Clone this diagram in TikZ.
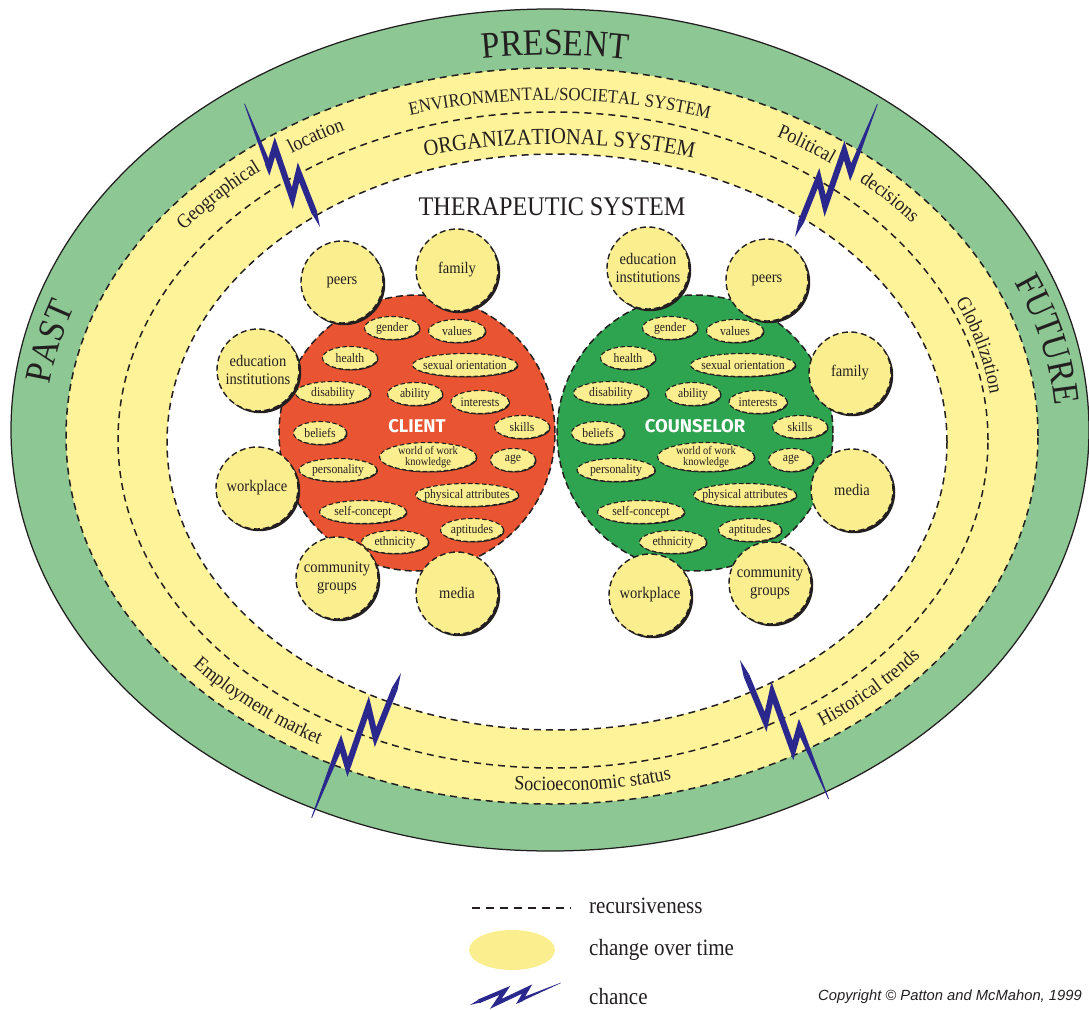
\documentclass[tikz,border=0pt]{standalone}
\usepackage{fontspec}
\setmainfont{Liberation Serif}[FakeStretch=0.9]
\newfontfamily\tagfont{Fira Sans}
\newfontfamily\copyfont{Liberation Sans}
\usetikzlibrary{shapes.geometric,shadows,decorations.text}

\definecolor{bandgreen}{RGB}{140,199,148}
\definecolor{bandyellow}{RGB}{255,243,153}
\definecolor{blobyellow}{RGB}{251,238,142}
\definecolor{clientred}{RGB}{233,85,50}
\definecolor{counselgreen}{RGB}{46,164,80}
\definecolor{chanceblue}{RGB}{42,40,140}
\definecolor{ink}{RGB}{35,31,32}

\newcommand\timefont{\fontsize{21.2}{24}\selectfont}
\newcommand\envfont{\fontsize{10.6}{12}\selectfont}
\newcommand\orgfont{\fontsize{13}{15}\selectfont}
\newcommand\therfont{\fontsize{15.3}{17}\selectfont}
\newcommand\factorfont{\fontsize{11.5}{13}\selectfont}
\newcommand\ctxfont{\fontsize{9.2}{10.4}\selectfont}
\newcommand\legendfont{\fontsize{13.3}{15}\selectfont}

\tikzset{
  recursive/.style={draw=ink, line width=0.03cm, dash pattern=on 0.14cm off 0.1cm},
  person/.style={circle, draw=ink, line width=0.03cm, dash pattern=on 0.14cm off 0.08cm, minimum size=5.52cm, inner sep=0pt},
  personlabel/.style={text=white, font=\tagfont\bfseries\fontsize{10.5}{12}\selectfont},
  ctxcircle/.style={circle, fill=blobyellow, draw=ink, line width=0.028cm, dash pattern=on 0.12cm off 0.07cm,
    minimum size=1.64cm, inner sep=0pt, align=center, text=ink, font=\ctxfont,
    drop shadow={shadow xshift=0.045cm, shadow yshift=-0.045cm, fill=ink, opacity=1}},
  trait/.style={ellipse, fill=blobyellow, draw=ink, line width=0.022cm, dash pattern=on 0.09cm off 0.05cm,
    inner xsep=-1cm, inner ysep=-0.5cm, align=center, text=ink,
    drop shadow={shadow xshift=0.02cm, shadow yshift=-0.02cm, fill=ink, opacity=1}},
  arclabel/.style={decorate, decoration={text along path, text align=center, text color=ink, text={#1}}},
  boltstroke/.style={line width=0.12cm},
  bolt/.pic={
    \fill[chanceblue] (0,0) -- (16.5,6) -- (17.5,0) -- cycle;
    \draw[chanceblue, boltstroke, line join=miter, line cap=butt] (17,3) -- (68,12) -- (46,-10) -- (108,4) -- (92,-14) -- (96,-13.3);
    \fill[chanceblue] (95.5,-10.3) -- (170,0.4) -- (170,-0.4) -- (96.5,-16.3) -- cycle;
  }
}

\begin{document}
\begin{tikzpicture}[x=0.02cm, y=0.02cm]
\useasboundingbox (0,0) rectangle (1089,-1010);

% bands
\filldraw[fill=bandgreen, draw=ink, line width=0.025cm] (550,-430) ellipse [x radius=539, y radius=421];
\fill[bandyellow] (552,-436) ellipse [x radius=486, y radius=368];
\fill[white] (557,-442) ellipse [x radius=390, y radius=288];
\draw[recursive] (552,-436) ellipse [x radius=486, y radius=368];
\draw[recursive] (553,-440) ellipse [x radius=435, y radius=328];
\draw[recursive] (557,-442) ellipse [x radius=390, y radius=288];

% time
\path[arclabel={|\timefont|PRESENT}] (551,-433) ++(106.5:505 and 378) arc [start angle=106.5, end angle=72.5, x radius=505, y radius=378];
\path[arclabel={|\timefont|PAST}] (551,-433) ++(185:505 and 378) arc [start angle=185, end angle=149, x radius=505, y radius=378];
\path[arclabel={|\timefont|FUTURE}] (551,-433) ++(31.5:505 and 378) arc [start angle=31.5, end angle=-4.5, x radius=505, y radius=378];

% systems
\path[arclabel={|\envfont|ENVIRONMENTAL/SOCIETAL SYSTEM}] (552,-438) ++(124:480 and 338) arc [start angle=124, end angle=54, x radius=480, y radius=338];
\path[arclabel={|\orgfont|ORGANIZATIONAL SYSTEM}] (555,-440) ++(124.4:450 and 296) arc [start angle=124.4, end angle=54.4, x radius=450, y radius=296];
\node[font=\therfont, text=ink] (therapeutic) at (552,-207) {THERAPEUTIC SYSTEM};

% societal influences
\path[arclabel={|\factorfont|Geographical}] (552,-438) ++(157:460 and 345) arc [start angle=157, end angle=117, x radius=460, y radius=345];
\path[arclabel={|\factorfont|location}] (552,-438) ++(136:460 and 345) arc [start angle=136, end angle=106, x radius=460, y radius=345];
\path[arclabel={|\factorfont|Political}] (552,-438) ++(71.3:460 and 345) arc [start angle=71.3, end angle=41.3, x radius=460, y radius=345];
\path[arclabel={|\factorfont|decisions}] (552,-438) ++(57.8:460 and 345) arc [start angle=57.8, end angle=27.8, x radius=460, y radius=345];
\path[arclabel={|\factorfont|Globalization}] (552,-438) ++(44.7:442 and 334) arc [start angle=44.7, end angle=-15.3, x radius=442, y radius=334];
\path[arclabel={|\factorfont|Employment market}] (552,-438) ++(198.5:470 and 353) arc [start angle=198.5, end angle=258.5, x radius=470, y radius=353];
\path[arclabel={|\factorfont|Historical trends}] (552,-438) ++(285.2:470 and 353) arc [start angle=285.2, end angle=345.2, x radius=470, y radius=353];
\path[arclabel={|\factorfont|Socioeconomic status}] (552,-438) ++(245.3:470 and 353) arc [start angle=245.3, end angle=305.3, x radius=470, y radius=353];

% client and counselor
\node[person, fill=clientred] (client) at (417,-433) {};
\node[person, fill=counselgreen] (counselor) at (695,-433) {};
\node[personlabel] (client-label) at (417,-426) {CLIENT};
\node[personlabel] (counselor-label) at (695,-426) {COUNSELOR};

\foreach \who/\cx in {cl/417, co/695} {
  \foreach \nm/\dx/\dy/\w/\h/\f/\txt in {
      gender/-25/105/1.1/0.46/7.4/gender,
      values/40/102/1.14/0.46/7.4/values,
      health/-67/75/1.1/0.46/7.4/health,
      sexual/48/68/2.1/0.46/7.4/sexual orientation,
      disability/-84/40/1.5/0.46/7.4/disability,
      ability/-2/39/1.1/0.46/7.4/ability,
      interests/63/31/1.16/0.46/7.4/interests,
      skills/105/6/1.1/0.46/7.4/skills,
      beliefs/-97/0/1.06/0.46/7.4/beliefs,
      work/11/-24/1.94/0.58/6.6/{world of work\\knowledge},
      age/96/-27/0.9/0.46/7.4/age,
      personality/-79/-37/1.56/0.46/7.4/personality,
      physical/50/-62/2.06/0.46/7.4/physical attributes,
      selfconcept/-54/-79/1.74/0.46/7.4/self-concept,
      aptitudes/55/-97/1.26/0.46/7.4/aptitudes,
      ethnicity/-22/-109/1.34/0.46/7.4/ethnicity} {
    \node[trait, minimum width=\w cm, minimum height=\h cm, font=\fontsize{\f}{\f}\selectfont] (\who-\nm) at (\cx+\dx,-433+\dy) {\txt};
  }
}

% context
\node[ctxcircle] (cl-peers) at (342,-282) {peers};
\node[ctxcircle] (cl-family) at (457,-270) {family};
\node[ctxcircle] (cl-edu) at (258,-370) {education\\institutions};
\node[ctxcircle] (cl-work) at (257,-488) {workplace};
\node[ctxcircle] (cl-comm) at (337,-578) {community\\groups};
\node[ctxcircle] (cl-media) at (457,-593) {media};
\node[ctxcircle] (co-edu) at (648,-268) {education\\institutions};
\node[ctxcircle] (co-peers) at (767,-280) {peers};
\node[ctxcircle] (co-family) at (850,-373) {family};
\node[ctxcircle] (co-media) at (852,-490) {media};
\node[ctxcircle] (co-comm) at (770,-583) {community\\groups};
\node[ctxcircle] (co-work) at (650,-595) {workplace};

% chance
\pic[rotate=121.5, yscale=-1, scale=0.85] at (320,-227) {bolt};
\pic[rotate=58.2, scale=0.92] at (795,-237) {bolt};
\pic[rotate=238.3] at (401,-673) {bolt};
\pic[rotate=302.5, yscale=-1, scale=0.97] at (740,-660) {bolt};

% legend
\coordinate (rec-a) at (472,-908);
\coordinate (rec-b) at (570,-908);
\draw[recursive, dash pattern=on 0.16cm off 0.12cm] (rec-a) -- (rec-b);
\node[anchor=west, font=\legendfont, text=ink] (rec-text) at (583,-906) {recursiveness};
\node[ellipse, fill=blobyellow, minimum width=1.72cm, minimum height=0.8cm, inner sep=0pt] (change-oval) at (512,-950) {};
\node[anchor=west, font=\legendfont, text=ink] (change-text) at (583,-950) {change over time};
\pic[rotate=13.7, xscale=0.55, yscale=0.5, boltstroke/.style={line width=0.08cm}] at (470,-1005) {bolt};
\node[anchor=west, font=\legendfont, text=ink] (chance-text) at (583,-997) {chance};
\node[anchor=east, font=\copyfont\itshape\fontsize{8.4}{10}\selectfont, text=ink] (copyright) at (1088,-997) {Copyright © Patton and McMahon, 1999};

\end{tikzpicture}
\end{document}
